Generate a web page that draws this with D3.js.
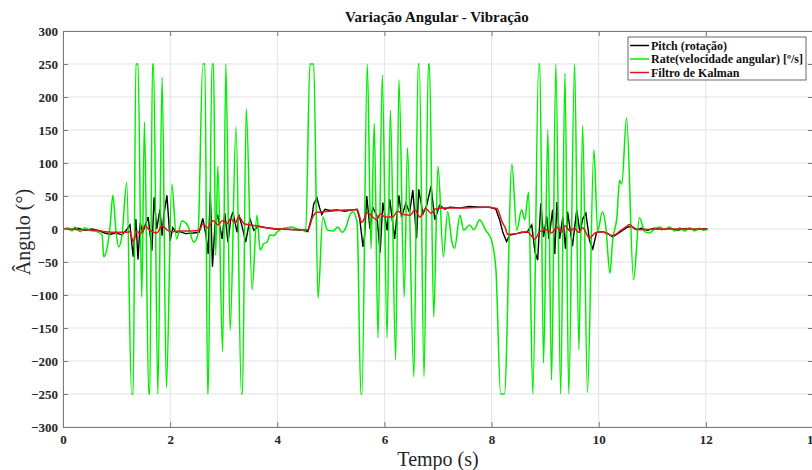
<!DOCTYPE html>
<html>
<head>
<meta charset="utf-8">
<script src="https://cdn.jsdelivr.net/npm/d3@7"></script>
<style>
	body { margin: 0; background: #fff; }
	text { font-family: "Liberation Serif", "Times New Roman", serif; }
</style>
</head>
<body>
<svg id="chart"></svg>
<script type="text/javascript">

	// [tempo (s), angulo]
	let pitchData = [
		[0,0],[0.13,-1],[0.28,1],[0.41,-2],[0.54,0],[0.69,-3],[0.78,-6],[0.88,-8],[0.99,-6],[1.10,-9],
		[1.18,-2],[1.25,6],[1.31,-42],[1.36,15],[1.40,-46],[1.44,9],[1.49,-5],[1.53,5],[1.59,18],[1.66,-33],
		[1.70,48],[1.75,0],[1.81,30],[1.85,-10],[1.88,20],[1.94,51],[2.00,-18],[2.05,2],[2.11,-5],[2.18,-4],
		[2.29,-7],[2.43,-6],[2.54,-5],[2.61,16],[2.67,-10],[2.71,-38],[2.75,56],[2.79,-57],[2.84,10],[2.89,20],
		[2.97,-15],[3.02,24],[3.08,-20],[3.13,15],[3.17,26],[3.25,-5],[3.28,22],[3.34,5],[3.41,-20],[3.49,15],
		[3.56,-2],[3.64,4],[3.77,2],[3.96,0],[4.27,-1],[4.51,-2],[4.57,-4],[4.65,20],[4.68,38],[4.74,47],
		[4.79,32],[4.83,22],[4.89,30],[4.98,28],[5.11,29],[5.26,27],[5.39,29],[5.49,30],[5.54,15],[5.60,-27],
		[5.63,-10],[5.67,50],[5.73,0],[5.78,33],[5.86,20],[5.92,-36],[5.97,40],[6.05,-2],[6.10,45],[6.19,-15],
		[6.27,51],[6.32,18],[6.40,39],[6.47,25],[6.53,59],[6.60,-14],[6.64,60],[6.72,23],[6.79,36],[6.87,65],
		[6.94,14],[7.03,36],[7.13,30],[7.22,33],[7.41,32],[7.59,34],[7.78,33],[7.97,33],[8.08,30],[8.15,14],
		[8.21,-5],[8.28,-19],[8.34,-9],[8.41,-8],[8.47,-7],[8.56,-5],[8.66,-5],[8.75,6],[8.81,-35],[8.86,-47],
		[8.92,39],[8.97,-12],[9.03,19],[9.07,-15],[9.14,29],[9.18,-38],[9.22,41],[9.27,-15],[9.33,18],[9.38,-30],
		[9.42,26],[9.51,-26],[9.59,29],[9.65,-6],[9.70,15],[9.76,24],[9.83,-18],[9.89,-30],[9.96,-5],[10.06,-4],
		[10.15,-6],[10.26,-12],[10.39,-5],[10.52,2],[10.61,4],[10.71,-1],[10.80,1],[10.91,-2],[11.04,1],[11.18,-1],
		[11.32,1],[11.46,-2],[11.62,1],[11.77,-1],[11.92,0],[12.03,0]
	]

	let rateData = [
		[0,-1],[0.09,2],[0.17,-3],[0.22,3],[0.32,-4],[0.41,2],[0.50,-2],[0.63,-4],[0.73,-9],[0.76,-42],
		[0.82,-30],[0.88,5],[0.93,51],[0.99,-5],[1.04,-27],[1.10,-10],[1.19,70],[1.28,-250],[1.31,-250],[1.36,250],
		[1.40,250],[1.47,-103],[1.52,162],[1.60,-250],[1.62,-250],[1.67,250],[1.69,250],[1.77,-250],[1.85,230],[1.93,-240],
		[2.03,68],[2.12,-15],[2.22,12],[2.33,5],[2.44,-20],[2.52,-8],[2.61,250],[2.65,250],[2.70,-250],[2.71,-250],
		[2.78,250],[2.81,250],[2.85,-40],[2.89,95],[2.98,-186],[3.04,250],[3.12,-153],[3.23,155],[3.33,-250],[3.35,-250],
		[3.42,182],[3.53,-92],[3.62,21],[3.68,-32],[3.75,-22],[3.81,-20],[3.86,-9],[3.94,-10],[3.99,-5],[4.09,0],
		[4.18,2],[4.27,3],[4.37,0],[4.48,-2],[4.53,-4],[4.61,250],[4.68,250],[4.76,-105],[4.85,18],[4.94,-2],
		[5.04,-3],[5.13,3],[5.21,-5],[5.28,2],[5.35,20],[5.41,26],[5.49,10],[5.56,-250],[5.58,-250],[5.68,250],
		[5.75,-30],[5.81,160],[5.88,-165],[5.96,233],[6.05,-165],[6.11,180],[6.21,-198],[6.27,226],[6.37,-103],[6.43,123],
		[6.55,-224],[6.63,250],[6.65,250],[6.74,-224],[6.82,250],[6.84,250],[6.92,-133],[7.00,95],[7.10,-42],[7.18,26],
		[7.26,-20],[7.31,-29],[7.41,21],[7.48,-2],[7.59,6],[7.67,-1],[7.78,14],[7.89,-2],[7.99,-15],[8.08,-60],
		[8.17,-250],[8.24,-250],[8.38,98],[8.47,-2],[8.56,29],[8.62,14],[8.69,56],[8.77,-250],[8.88,250],[8.90,250],
		[8.97,-203],[9.05,150],[9.12,-229],[9.20,250],[9.29,-250],[9.37,236],[9.44,-250],[9.55,250],[9.63,-183],[9.70,157],
		[9.79,-248],[9.91,120],[9.98,-3],[10.07,26],[10.13,5],[10.21,-67],[10.26,-17],[10.34,18],[10.39,74],[10.43,68],
		[10.52,168],[10.65,-77],[10.76,17],[10.86,-4],[10.95,-6],[11.04,0],[11.14,3],[11.23,-1],[11.32,3],[11.42,-3],
		[11.51,2],[11.60,-3],[11.70,2],[11.79,-3],[11.88,1],[11.96,-2],[12.03,0]
	]

	let kalmanData = [
		[0,0],[0.30,-1],[0.60,-2],[0.80,-4],[1.00,-5],[1.15,-5],[1.25,-4],[1.31,-19],[1.38,-3],[1.44,-8],
		[1.53,5],[1.62,-2],[1.75,-6],[1.85,5],[1.95,-2],[2.05,-4],[2.20,-3],[2.40,-3],[2.55,-2],[2.61,8],
		[2.70,2],[2.81,13],[2.89,6],[2.98,13],[3.06,8],[3.13,16],[3.22,9],[3.28,19],[3.38,8],[3.50,6],
		[3.62,5],[3.80,2],[4.10,0],[4.50,-1],[4.57,-1],[4.66,18],[4.73,25],[4.98,27],[5.49,29],[5.58,10],
		[5.68,25],[5.78,18],[5.86,14],[5.92,23],[6.02,18],[6.15,18],[6.25,27],[6.35,22],[6.48,21],[6.57,29],
		[6.66,18],[6.77,31],[6.87,24],[6.94,30],[7.09,32],[7.50,32],[7.90,33],[8.10,31],[8.20,10],[8.26,1],
		[8.30,-8],[8.47,-7],[8.66,-4],[8.81,-15],[8.90,-4],[9.05,-1],[9.12,-6],[9.22,3],[9.30,-5],[9.38,5],
		[9.46,-3],[9.55,1],[9.62,-5],[9.70,2],[9.83,-14],[9.93,-6],[10.06,-4],[10.26,-10],[10.40,-3],[10.52,4],
		[10.58,7],[10.67,0],[10.80,-1],[11.20,0],[12.03,0]
	]

	let xTicks = [0, 2, 4, 6, 8, 10, 12, 14]
	let yTicks = [-300, -250, -200, -150, -100, -50, 0, 50, 100, 150, 200, 250, 300]

	let legendLabels = ["Pitch (rotação)", "Rate(velocidade angular) [º/s]", "Filtro de Kalman"]
	let legendColors = ["#000000", "#00ee00", "#e8141c"]

	//sizes (plot box runs a pixel past the window on the right, like the original)
	let width = 812
	let height = 470
	let plotLeft = 63
	let plotRight = 813
	let plotTop = 31
	let plotBottom = 427

	let chart = d3.select("#chart")
		.attr("width", width)
		.attr("height", height)

	let xScale = d3.scaleLinear().domain([0, 14]).range([plotLeft, plotRight])
	let yScale = d3.scaleLinear().domain([-300, 300]).range([plotBottom, plotTop])

	//grid
	chart.append("g").selectAll("line")
		.data(xTicks)
		.enter().append("line")
		.attr("x1", d => xScale(d)).attr("x2", d => xScale(d))
		.attr("y1", plotTop).attr("y2", plotBottom)
		.style("stroke", "#e3e3e3").style("stroke-width", 1)

	chart.append("g").selectAll("line")
		.data(yTicks)
		.enter().append("line")
		.attr("x1", plotLeft).attr("x2", plotRight)
		.attr("y1", d => yScale(d)).attr("y2", d => yScale(d))
		.style("stroke", "#e3e3e3").style("stroke-width", 1)

	//clip the series to the axes box
	chart.append("clipPath").attr("id", "plotclip")
		.append("rect")
		.attr("x", plotLeft).attr("y", plotTop)
		.attr("width", plotRight - plotLeft).attr("height", plotBottom - plotTop)

	let smoothLine = d3.line()
		.x(d => xScale(d[0]))
		.y(d => yScale(d[1]))
		.curve(d3.curveMonotoneX)

	let rawLine = d3.line()
		.x(d => xScale(d[0]))
		.y(d => yScale(d[1]))

	let lines = chart.append("g").attr("clip-path", "url(#plotclip)")

	lines.append("path")
		.attr("d", rawLine(pitchData))
		.style("fill", "none").style("stroke", legendColors[0]).style("stroke-width", 1.4)

	lines.append("path")
		.attr("d", smoothLine(rateData))
		.style("fill", "none").style("stroke", legendColors[1]).style("stroke-width", 1.5)

	lines.append("path")
		.attr("d", smoothLine(kalmanData))
		.style("fill", "none").style("stroke", legendColors[2]).style("stroke-width", 1.5)

	//axes, ticks pointing inwards like matlab
	let xAxis = d3.axisBottom(xScale).tickValues(xTicks).tickSize(-5).tickPadding(8)
	let yAxis = d3.axisLeft(yScale).tickValues(yTicks).tickSize(-5).tickPadding(5)
	let xAxisTop = d3.axisTop(xScale).tickValues(xTicks).tickSize(-5).tickFormat("")
	let yAxisRight = d3.axisRight(yScale).tickValues(yTicks).tickSize(-5).tickFormat("")

	let axisGlyphs = [
		chart.append("g").attr("transform", "translate(0," + plotBottom + ")").call(xAxis),
		chart.append("g").attr("transform", "translate(" + plotLeft + ",0)").call(yAxis),
		chart.append("g").attr("transform", "translate(0," + plotTop + ")").call(xAxisTop),
		chart.append("g").attr("transform", "translate(" + plotRight + ",0)").call(yAxisRight)
	]
	axisGlyphs.forEach(function(g){
		g.select(".domain").style("stroke", "#7a7a7a")
		g.selectAll(".tick line").style("stroke", "#7a7a7a")
		g.selectAll(".tick text")
			.style("font-family", "'Liberation Serif', serif")
			.style("font-size", "13px")
			.style("font-weight", "bold")
			.style("fill", "#262626")
	})

	//titles
	chart.append("text")
		.attr("x", (plotLeft + plotRight) / 2 - 1).attr("y", 22)
		.attr("text-anchor", "middle")
		.style("font-size", "15px").style("font-weight", "bold").style("fill", "#111")
		.text("Variação Angular - Vibração")

	chart.append("text")
		.attr("x", (plotLeft + plotRight) / 2).attr("y", 466)
		.attr("text-anchor", "middle")
		.style("font-size", "20px").style("fill", "#262626")
		.text("Tempo (s)")

	chart.append("text")
		.attr("transform", "translate(30,232) rotate(-90)")
		.attr("text-anchor", "middle")
		.style("font-size", "20px").style("fill", "#262626")
		.text("Ângulo (°)")

	//legend
	let legend = chart.append("g").attr("transform", "translate(628,37)")
	legend.append("rect")
		.attr("width", 178).attr("height", 43)
		.style("fill", "#fff").style("stroke", "#444").style("stroke-width", 0.8)

	let rows = legend.selectAll("g.row")
		.data(legendLabels)
		.enter().append("g")
		.attr("class", "row")
		.attr("transform", (d, i) => "translate(0," + (8.5 + i * 13.5) + ")")

	rows.append("line")
		.attr("x1", 2).attr("x2", 21)
		.style("stroke", (d, i) => legendColors[i]).style("stroke-width", 1.5)

	rows.append("text")
		.attr("x", 23).attr("dy", "0.35em")
		.style("font-size", "12px").style("font-weight", "bold").style("fill", "#111")
		.text(d => d)

</script>
</body>
</html>
